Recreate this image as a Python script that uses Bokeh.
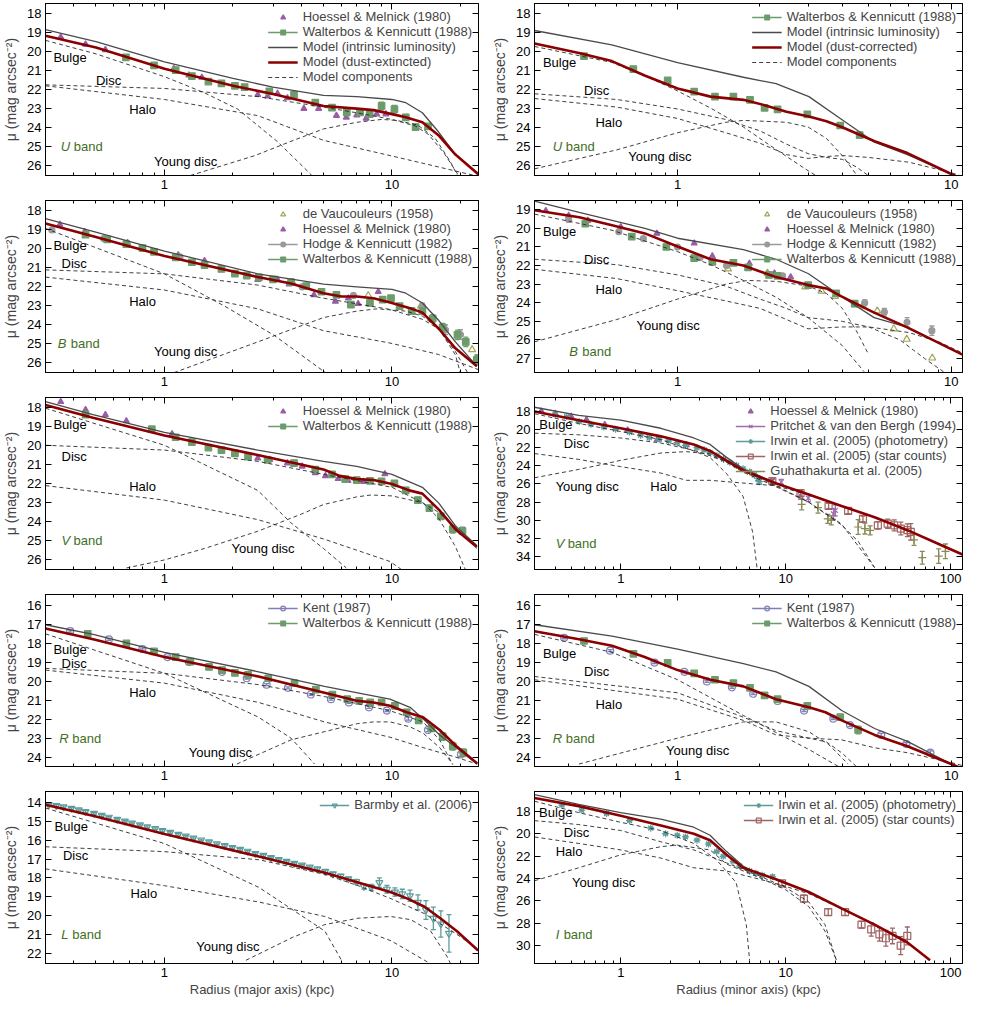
from bokeh.plotting import figure
from bokeh.models import (Range1d, FixedTicker, LogAxis, LinearAxis, Legend, LegendItem,
                          Label, ColumnDataSource, BasicTickFormatter, CustomJSTickFormatter)
from bokeh.layouts import column, row
from bokeh.embed import file_html
from bokeh.resources import INLINE

FONT = "Liberation Sans"
RED = "#8b0000"
GRAY = "#4a4a4a"
DASHC = "#2a2a2a"
C_HM = "#9a5ca6"
C_WK = "#6c9c6c"
C_DV = "#a3a35a"
C_HK = "#9a9a9a"
C_KENT = "#7f7fb5"
C_PV = "#a06cb0"
C_IP = "#5c9c9c"
C_IS = "#a06464"
C_GU = "#8a8a58"
C_BA = "#5c9c9c"
C_BAND = "#3f6f1f"

# ---------------- ticks ----------------
X_MAJOR = [1, 10, 100]
X_MINOR = [0.3, 0.4, 0.5, 0.6, 0.7, 0.8, 0.9, 2, 3, 4, 5, 6, 7, 8, 9,
           20, 30, 40, 50, 60, 70, 80, 90, 200]
Y_TICKS_UBV = [18, 19, 20, 21, 22, 23, 24, 25, 26]
Y_TICKS_B_MIN = [19, 20, 21, 22, 23, 24, 25, 26, 27]
Y_TICKS_V_MIN = [18, 20, 22, 24, 26, 28, 30, 32, 34]
Y_TICKS_R = [16, 17, 18, 19, 20, 21, 22, 23, 24]
Y_TICKS_L = [14, 15, 16, 17, 18, 19, 20, 21, 22]
Y_TICKS_I = [18, 20, 22, 24, 26, 28, 30]

# ---------------- U band, major axis ----------------
U_MAJ_INTR_X = [0.3, 0.5, 1, 2, 3, 5, 7, 10, 11.5, 13.6, 16, 19, 24]
U_MAJ_INTR_Y = [18.88, 19.5, 20.57, 21.44, 21.9, 22.33, 22.4, 22.55, 22.72, 23.25, 24.25, 25.45, 26.45]
U_MAJ_RED_X = [0.3, 0.5, 1, 2, 3, 5, 7, 8.3, 10, 11.5, 13.6, 16, 19, 24]
U_MAJ_RED_Y = [19.2, 19.82, 20.93, 21.83, 22.26, 22.89, 23.03, 23.11, 23.32, 23.49, 23.75, 24.43, 25.45, 26.5]
U_MAJ_BULGE_X = [0.3, 0.5, 1, 1.5, 2.1, 3.14, 4.39, 4.7]
U_MAJ_BULGE_Y = [19.44, 20.15, 21.35, 22.2, 23.06, 24.77, 26.48, 27.0]
U_MAJ_DISC_X = [0.3, 1, 2.57, 5, 7, 10, 12.7, 14.5, 17, 19.5, 21]
U_MAJ_DISC_Y = [21.78, 21.97, 22.4, 22.95, 23.25, 23.6, 23.95, 24.4, 25.4, 26.5, 27.2]
U_MAJ_HALO_X = [0.3, 1, 2.57, 5, 9.8, 16, 24]
U_MAJ_HALO_Y = [21.83, 22.55, 23.4, 24.7, 25.5, 26.1, 26.6]
U_MAJ_YOUNG_X = [1.3, 2.5, 3.6, 5, 7, 9, 10.5, 13, 15.5, 18, 19.5]
U_MAJ_YOUNG_Y = [26.55, 25.5, 24.75, 24.1, 23.75, 23.6, 23.65, 23.9, 24.6, 25.8, 26.6]
U_MAJ_HM_X = [0.35, 0.45, 0.55, 1.1, 1.28, 1.46, 2.57, 2.84, 3.14, 3.47, 4.1, 4.76, 5.7, 6.3, 7.0, 7.7, 8.56, 9.4]
U_MAJ_HM_Y = [19.27, 19.65, 19.94, 20.93, 21.27, 21.39, 22.3, 22.38, 22.24, 22.47, 23.03, 23.03, 23.4, 23.49, 23.37, 23.54, 23.32, 23.32]
U_MAJ_WK_X = [0.677, 0.9, 1.12, 1.32, 1.56, 1.78, 2.04, 2.25, 2.89, 3.71, 4.6, 5.45, 6.33, 7.24, 7.98, 9.0, 10.25, 11.5, 12.7, 14.4]
U_MAJ_WK_Y = [20.33, 20.76, 21.01, 21.32, 21.61, 21.7, 21.83, 21.9, 22.12, 22.3, 22.72, 22.98, 23.23, 23.23, 23.32, 22.89, 23.06, 23.49, 24.0, 23.97]
U_MAJ_WK_E = [0.08, 0.08, 0.08, 0.08, 0.08, 0.08, 0.08, 0.08, 0.1, 0.1, 0.12, 0.12, 0.15, 0.15, 0.15, 0.2, 0.2, 0.15, 0.15, 0.15]

# ---------------- U band, minor axis ----------------
U_MIN_INTR_X = [0.3, 0.575, 1, 1.74, 2.29, 3.02, 3.98, 5.25, 6.92, 10, 11]
U_MIN_INTR_Y = [18.92, 19.68, 20.61, 21.38, 21.72, 22.4, 23.6, 24.8, 25.45, 26.47, 26.75]
U_MIN_RED_X = [0.3, 0.436, 0.575, 0.758, 1, 1.32, 1.74, 2.08, 2.5, 3.02, 3.5, 3.98, 5.25, 6.92, 10, 11]
U_MIN_RED_Y = [19.6, 20.1, 20.53, 21.29, 21.97, 22.4, 22.57, 22.85, 23.2, 23.45, 23.7, 24.0, 24.75, 25.37, 26.47, 26.75]
U_MIN_BULGE_X = [0.3, 0.575, 0.76, 1, 1.32, 1.74, 2.3, 3.0, 3.5]
U_MIN_BULGE_Y = [19.76, 20.6, 21.3, 22.1, 23.0, 24.0, 25.2, 26.3, 26.9]
U_MIN_DISC_X = [0.3, 0.6, 1, 1.5, 2, 2.5, 3, 3.5, 4, 4.5, 5.5]
U_MIN_DISC_Y = [22.25, 22.55, 23.05, 23.6, 24.2, 24.9, 25.4, 25.6, 25.7, 26.1, 27.0]
U_MIN_HALO_X = [0.3, 0.6, 1, 1.5, 2, 2.5, 3, 3.5, 4, 5, 7, 10, 11]
U_MIN_HALO_Y = [22.5, 22.95, 23.55, 24.3, 24.85, 25.45, 25.65, 25.55, 25.5, 25.6, 25.85, 26.4, 26.6]
U_MIN_YOUNG_X = [0.3, 0.6, 1, 1.5, 1.74, 2.5, 3, 3.5, 4, 4.5, 5]
U_MIN_YOUNG_Y = [26.2, 25.2, 24.3, 23.75, 23.65, 23.75, 24.0, 24.6, 25.5, 26.5, 27.2]
U_MIN_WK_X = [0.455, 0.689, 0.92, 1.15, 1.37, 1.6, 1.84, 2.08, 2.32, 2.98, 3.93, 4.63]
U_MIN_WK_Y = [20.27, 20.95, 21.55, 22.14, 22.4, 22.4, 22.57, 22.99, 23.07, 23.33, 23.92, 24.43]
U_MIN_WK_E = [0.08, 0.08, 0.1, 0.1, 0.1, 0.1, 0.1, 0.1, 0.1, 0.12, 0.15, 0.15]

# ---------------- B band, major axis ----------------
B_MAJ_INTR_X = [0.3, 0.49, 1, 2.57, 5, 7, 10, 11.5, 13.6, 16.1, 19, 23.6]
B_MAJ_INTR_Y = [18.45, 19.14, 20.16, 21.36, 21.9, 22.04, 22.18, 22.38, 22.89, 23.83, 24.94, 26.22]
B_MAJ_RED_X = [0.3, 0.49, 1, 2.57, 3.6, 5, 6, 7, 8.3, 10, 11.9, 13.6, 16.1, 19, 23.6]
B_MAJ_RED_Y = [18.71, 19.39, 20.42, 21.53, 21.87, 22.38, 22.55, 22.55, 22.64, 22.89, 23.15, 23.4, 24.26, 25.28, 26.22]
B_MAJ_BULGE_X = [0.3, 1, 1.84, 3.04, 5.0, 5.5]
B_MAJ_BULGE_Y = [18.97, 21.36, 23.06, 24.6, 26.48, 26.9]
B_MAJ_DISC_X = [0.3, 1, 2.57, 5, 9.8, 13.6, 16.1, 19, 20]
B_MAJ_DISC_Y = [21.15, 21.36, 21.95, 22.64, 23.23, 23.75, 24.26, 25.62, 26.6]
B_MAJ_HALO_X = [0.3, 1, 2.57, 5, 9.8, 16, 24]
B_MAJ_HALO_Y = [21.53, 22.21, 23.2, 24.35, 25.0, 25.6, 26.4]
B_MAJ_YOUNG_X = [1.1, 2.57, 5, 7, 8.6, 11.5, 13.6, 16.1, 19, 21.5]
B_MAJ_YOUNG_Y = [26.56, 24.94, 23.66, 23.32, 23.2, 23.32, 23.58, 24.26, 25.45, 26.56]
B_MAJ_DV_X = [3.65, 7.86, 13.4, 22.5, 23.5]
B_MAJ_DV_Y = [21.8, 22.5, 23.05, 25.35, 25.8]
B_MAJ_HM_X = [0.347, 0.446, 0.688, 1.15, 1.5, 2.57, 3.14, 3.53, 4.54, 5.64, 6.43, 7.1, 8.7]
B_MAJ_HM_Y = [18.76, 19.14, 19.73, 20.37, 20.67, 21.66, 21.66, 21.9, 22.47, 22.81, 22.64, 22.93, 22.3]
B_MAJ_HK_X = [0.32, 0.54, 0.8, 1.17, 4.03, 6.77, 13.6, 17.2, 20.0]
B_MAJ_HK_Y = [19.05, 19.5, 20.02, 20.47, 22.04, 22.5, 23.05, 24.3, 24.55]
B_MAJ_HK_E = [0.1, 0.1, 0.1, 0.1, 0.12, 0.12, 0.15, 0.25, 0.25]
B_MAJ_WK_X = [0.45, 0.56, 0.68, 0.8, 0.9, 1.12, 1.32, 1.5, 1.78, 2.04, 2.3, 2.6, 3.0, 3.6, 4.2,
              4.9, 5.7, 6.6, 8.0, 9.1, 9.9, 10.8, 12.2, 13.6, 15.1, 16.7, 19.4, 21.1, 23.6]
B_MAJ_WK_Y = [19.3, 19.55, 19.8, 20.0, 20.2, 20.5, 20.75, 20.9, 21.1, 21.35, 21.45, 21.55, 21.65, 21.8, 22.0,
              22.3, 22.47, 22.98, 22.89, 22.72, 22.64, 23.06, 23.32, 23.32, 23.71, 24.17, 24.57, 24.94, 25.88]
B_MAJ_WK_E = [0.08, 0.08, 0.08, 0.08, 0.08, 0.08, 0.08, 0.08, 0.08, 0.08, 0.08, 0.08, 0.08, 0.08,
              0.1, 0.1, 0.12, 0.12, 0.12, 0.12, 0.12, 0.15, 0.15, 0.15, 0.2, 0.2, 0.25, 0.25, 0.25]

# ---------------- B band, minor axis ----------------
B_MIN_INTR_X = [0.3, 0.437, 0.76, 1, 1.74, 2.29, 3.01, 3.97, 5.23, 6.7, 9.08, 11]
B_MIN_INTR_Y = [18.53, 19.14, 20.0, 20.53, 21.14, 21.66, 22.44, 23.66, 24.8, 25.25, 26.18, 26.79]
B_MIN_RED_X = [0.3, 0.437, 0.576, 0.76, 1, 1.32, 1.74, 2.29, 3.01, 3.5, 3.97, 5.23, 6.88, 9.08, 11]
B_MIN_RED_Y = [19.02, 19.4, 19.83, 20.27, 20.97, 21.66, 22.0, 22.62, 23.05, 23.23, 23.66, 24.53, 25.31, 26.18, 26.79]
B_MIN_BULGE_X = [0.3, 0.576, 1, 1.32, 1.74, 2.29, 3.0, 4.0, 4.8]
B_MIN_BULGE_Y = [19.23, 20.1, 21.25, 21.95, 22.8, 23.7, 24.8, 26.3, 27.7]
B_MIN_DISC_X = [0.3, 0.6, 1, 1.5, 2, 2.5, 3, 3.5, 4, 5, 6.5, 8, 10]
B_MIN_DISC_Y = [21.66, 21.95, 22.5, 23.1, 23.8, 24.3, 24.8, 24.9, 25.0, 25.3, 26.0, 27.0, 28.0]
B_MIN_HALO_X = [0.3, 0.6, 1, 1.5, 2, 2.5, 3, 4, 5, 7, 9, 11]
B_MIN_HALO_Y = [22.2, 22.7, 23.35, 23.9, 24.3, 24.9, 25.4, 25.3, 25.3, 25.6, 26.1, 26.7]
B_MIN_YOUNG_X = [0.3, 0.6, 1, 1.5, 1.8, 2.3, 3, 3.5, 4, 4.5, 5]
B_MIN_YOUNG_Y = [26.1, 24.9, 23.8, 23.0, 22.8, 22.85, 23.1, 23.5, 24.3, 25.5, 26.8]
B_MIN_DV_X = [1.34, 1.53, 2.13, 2.93, 3.36, 3.76, 4.75, 5.37, 6.17, 6.88, 8.53]
B_MIN_DV_Y = [21.83, 22.18, 22.41, 23.14, 23.37, 23.66, 24.18, 24.44, 25.4, 25.96, 26.97]
B_MIN_HM_X = [0.33, 0.4, 0.47, 0.62, 0.84, 1.15, 1.34, 1.83, 2.26, 2.59]
B_MIN_HM_Y = [19.05, 19.31, 19.57, 19.92, 20.27, 20.8, 21.49, 21.89, 22.41, 22.62]
B_MIN_HK_X = [0.4, 0.61, 0.75, 1.0, 1.21, 1.51, 2.42, 4.83, 5.7, 6.9, 8.5]
B_MIN_HK_Y = [19.52, 20.18, 20.55, 21.0, 21.57, 22.0, 22.55, 24.0, 24.5, 25.05, 25.5]
B_MIN_HK_E = [0.1, 0.1, 0.1, 0.1, 0.1, 0.1, 0.1, 0.15, 0.2, 0.25, 0.25]
B_MIN_WK_X = [0.46, 0.68, 0.91, 1.15, 1.34, 1.6, 1.81, 2.16, 2.32, 3.0, 3.8, 4.44]
B_MIN_WK_Y = [19.75, 20.44, 21.0, 21.6, 21.8, 21.85, 22.1, 22.5, 22.55, 23.05, 23.5, 24.05]
B_MIN_WK_E = [0.08, 0.08, 0.08, 0.1, 0.1, 0.1, 0.1, 0.1, 0.1, 0.12, 0.15, 0.15]

# ---------------- V band, major axis ----------------
V_MAJ_INTR_X = [0.3, 0.485, 1, 2.57, 5, 7, 10, 13.6, 16.1, 19, 23.6]
V_MAJ_INTR_Y = [17.72, 18.4, 19.32, 20.25, 20.84, 21.1, 21.52, 22.2, 23.04, 24.22, 25.24]
V_MAJ_RED_X = [0.3, 0.485, 1, 2.57, 5, 5.9, 7, 8.3, 10, 11.9, 13.6, 16.1, 19, 23.6]
V_MAJ_RED_Y = [17.89, 18.56, 19.49, 20.51, 21.27, 21.6, 21.77, 21.82, 22.03, 22.36, 22.53, 23.38, 24.39, 25.32]
V_MAJ_BULGE_X = [0.3, 1, 2.57, 3.59, 5, 6.3]
V_MAJ_BULGE_Y = [18.06, 20.0, 22.36, 24.05, 25.4, 26.42]
V_MAJ_DISC_X = [0.3, 1, 2.57, 5, 10, 13.6, 16, 19, 21]
V_MAJ_DISC_Y = [20.0, 20.25, 20.84, 21.52, 22.2, 23.0, 23.8, 25.3, 26.5]
V_MAJ_HALO_X = [0.3, 1, 2.57, 5, 9.8, 11]
V_MAJ_HALO_Y = [22.11, 22.87, 23.89, 24.9, 26.08, 26.5]
V_MAJ_YOUNG_X = [0.68, 1, 1.5, 2.57, 4, 5, 7, 8.1, 10, 13.6, 16, 19, 23.6]
V_MAJ_YOUNG_Y = [26.42, 26.0, 25.4, 24.5, 23.6, 23.1, 22.7, 22.6, 22.65, 23.0, 23.5, 24.3, 25.4]
V_MAJ_HM_X = [0.35, 0.45, 0.55, 0.68, 1.08, 2.57, 2.9, 3.47, 4.03, 4.6, 5.1, 5.8, 6.4, 7.0, 7.5, 9.3]
V_MAJ_HM_Y = [17.72, 18.14, 18.4, 18.73, 19.41, 20.68, 20.75, 20.93, 21.1, 21.45, 21.6, 21.75, 21.85, 21.85, 21.9, 21.5]
V_MAJ_WK_X = [0.45, 0.88, 1.12, 1.32, 1.56, 1.78, 2.04, 2.33, 2.84, 3.71, 4.6, 5.45, 6.23, 7.0, 8.0,
              9.0, 10.25, 11.5, 13.0, 14.6, 16.4, 18.5, 20.4]
V_MAJ_WK_Y = [18.4, 19.16, 19.58, 19.83, 20.12, 20.25, 20.42, 20.59, 20.76, 20.93, 21.27, 21.52, 21.77, 21.82, 21.86,
              21.89, 21.99, 22.36, 22.87, 23.29, 23.72, 24.39, 24.48]
V_MAJ_WK_E = [0.08, 0.08, 0.08, 0.08, 0.08, 0.08, 0.08, 0.08, 0.08, 0.1, 0.1, 0.1, 0.12, 0.12, 0.12,
              0.12, 0.12, 0.15, 0.15, 0.15, 0.15, 0.2, 0.2]

# ---------------- V band, minor axis ----------------
V_MIN_INTR_X = [0.3, 0.556, 1, 1.75, 2.77, 3.48, 4.38, 5.51, 6.93, 8.72]
V_MIN_INTR_Y = [17.57, 18.46, 18.99, 19.88, 20.95, 21.66, 23.08, 24.33, 25.1, 25.93]
V_MIN_RED_X = [0.3, 0.556, 1, 1.75, 2.77, 3.48, 4.38, 5.51, 8.72, 13.8, 21.8, 34.6, 54.7, 86.6, 118]
V_MIN_RED_Y = [18.04, 18.99, 19.88, 20.77, 21.66, 22.37, 23.44, 24.5, 25.93, 27.17, 28.42, 29.66, 31.08, 32.68, 33.75]
V_MIN_BULGE_X = [0.3, 0.556, 1, 1.75, 2.77, 3.48, 4.38, 5.51, 6.3, 6.7]
V_MIN_BULGE_Y = [18.28, 19.35, 20.24, 21.13, 22.37, 23.1, 24.86, 27.35, 31.26, 35.2]
V_MIN_DISC_X = [0.3, 0.556, 1, 1.75, 2.77, 3.48, 4.38, 5.51, 8.72, 13.8, 21.8, 27.5, 34.6]
V_MIN_DISC_Y = [20.42, 20.6, 20.95, 21.5, 22.3, 22.9, 23.6, 24.5, 26.2, 28.0, 30.5, 32.3, 35.2]
V_MIN_YOUNG_X = [0.3, 0.556, 0.8, 1, 1.75, 2.5, 3.48, 4.38, 5.51, 8.72, 13.8, 21.8, 34.6]
V_MIN_YOUNG_Y = [25.32, 24.4, 23.8, 23.4, 22.6, 22.45, 22.7, 23.6, 24.7, 26.3, 28.0, 30.4, 35.2]
V_MIN_HALO_X = [0.3, 0.556, 0.8, 1, 1.75, 2.5, 3.48, 5.51, 8.72, 13.8, 21.8, 34.6, 54.7, 86.6, 118]
V_MIN_HALO_Y = [22.66, 23.3, 23.8, 24.1, 24.8, 25.6, 25.6, 25.9, 26.2, 27.2, 28.4, 29.7, 31.1, 32.7, 33.8]
V_MIN_HM_X = [0.33, 0.4, 0.5, 0.62, 0.8, 1.1, 1.67, 2.5]
V_MIN_HM_Y = [18.0, 18.25, 18.6, 18.95, 19.5, 20.1, 21.1, 21.7]
V_MIN_PV_X = [8.3, 9.4, 12.3, 13.7, 19.5, 20.0]
V_MIN_PV_Y = [25.7, 25.8, 27.3, 27.55, 29.3, 28.9]
V_MIN_PV_E = [0.3, 0.3, 0.4, 0.4, 0.6, 0.6]
V_MIN_IP_X = [0.4, 0.47, 0.56, 0.66, 0.79, 0.93, 1.13, 1.32, 1.49, 1.71, 1.95, 2.2, 2.47, 2.9, 3.2,
              3.48, 3.83, 4.2, 4.59, 5.03, 5.51, 6.04, 6.47, 6.78, 6.93]
V_MIN_IP_Y = [18.4, 18.6, 19.15, 19.45, 19.75, 20.0, 20.3, 20.65, 20.9, 21.1, 21.3, 21.45, 21.75, 22.0, 22.25,
              22.55, 22.9, 23.3, 23.62, 23.97, 24.33, 24.68, 25.0, 25.4, 25.75]
V_MIN_IP_E = [0.1, 0.1, 0.1, 0.1, 0.1, 0.1, 0.1, 0.1, 0.1, 0.1, 0.1, 0.1, 0.1, 0.1, 0.1,
              0.1, 0.1, 0.1, 0.1, 0.1, 0.15, 0.15, 0.2, 0.25, 0.3]
V_MIN_IS_X = [8.3, 12.3, 18.2, 23.9, 29.4, 36.2, 41.5, 45.5, 49.9, 54.7, 57.3]
V_MIN_IS_Y = [25.7, 27.0, 28.42, 28.95, 29.84, 30.55, 30.37, 30.55, 30.9, 31.08, 31.26]
V_MIN_IS_E = [0.2, 0.3, 0.3, 0.3, 0.3, 0.4, 0.5, 0.6, 0.7, 0.7, 0.9]
V_MIN_GU_X = [12.5, 15.7, 18.0, 18.9, 27.5, 30.2, 32.5, 60, 67.3, 84.6, 93]
V_MIN_GU_Y = [28.24, 28.6, 29.84, 30.0, 30.73, 30.9, 31.1, 32.15, 34.1, 33.93, 33.4]
V_MIN_GU_E = [0.6, 0.6, 0.5, 0.5, 0.8, 0.6, 0.5, 0.6, 0.7, 0.8, 0.8]

# ---------------- R band, major axis ----------------
R_MAJ_INTR_X = [0.3, 0.486, 1, 2.59, 5.05, 7.06, 9.8, 12, 13.7, 16.2, 19.2, 23.7]
R_MAJ_INTR_Y = [17.0, 17.51, 18.46, 19.49, 20.26, 20.6, 20.94, 21.37, 21.97, 22.83, 23.51, 24.37]
R_MAJ_RED_X = [0.3, 0.486, 1, 2.59, 5.05, 7.06, 8.3, 9.8, 11.6, 13.7, 16.2, 19.2, 23.7]
R_MAJ_RED_Y = [17.2, 17.77, 18.71, 19.74, 20.6, 21.03, 21.11, 21.29, 21.63, 21.89, 22.57, 23.43, 24.34]
R_MAJ_BULGE_X = [0.3, 1, 2.59, 3.6, 4.57]
R_MAJ_BULGE_Y = [17.48, 19.57, 21.89, 23.0, 24.37]
R_MAJ_DISC_X = [0.3, 1, 2.59, 5.05, 9.8, 13.7, 16.2, 18.5]
R_MAJ_DISC_Y = [19.31, 19.57, 20.17, 20.8, 21.55, 22.14, 23.1, 24.4]
R_MAJ_HALO_X = [0.3, 1, 2.59, 5.05, 9.8, 13.7, 19, 23.7]
R_MAJ_HALO_Y = [19.4, 20.09, 21.11, 22.14, 22.95, 23.5, 24.0, 24.37]
R_MAJ_YOUNG_X = [2.08, 3.6, 7.06, 8.3, 9.8, 12, 13.7, 16.2, 18.5]
R_MAJ_YOUNG_Y = [24.37, 23.09, 22.23, 22.14, 22.14, 22.4, 22.74, 23.5, 24.37]
R_MAJ_KENT_X = [0.385, 0.57, 0.8, 1.03, 1.28, 1.79, 2.3, 2.81, 3.49, 4.4, 5.39, 6.47, 7.92, 9.5, 11.8, 14.4, 20.1]
R_MAJ_KENT_Y = [17.34, 17.77, 18.29, 18.71, 18.97, 19.49, 19.83, 20.17, 20.34, 20.69, 20.94, 21.11, 21.37, 21.54, 21.97, 22.57, 23.86]
R_MAJ_KENT_E = [0.05, 0.05, 0.05, 0.05, 0.05, 0.05, 0.05, 0.05, 0.05, 0.05, 0.05, 0.05, 0.05, 0.05, 0.08, 0.08, 0.1]
R_MAJ_WK_X = [0.46, 0.68, 0.9, 1.12, 1.3, 1.57, 1.79, 2.04, 2.33, 2.86, 3.73, 4.63, 5.47, 6.36, 7.17,
              8.02, 9.0, 10.3, 11.6, 13.1, 14.9, 16.7, 18.5, 20.6]
R_MAJ_WK_Y = [17.48, 17.99, 18.41, 18.71, 18.95, 19.23, 19.4, 19.55, 19.65, 19.83, 20.09, 20.43, 20.69, 20.94, 21.03,
              21.11, 21.11, 21.29, 21.63, 22.06, 22.49, 22.91, 23.43, 23.77]
R_MAJ_WK_E = [0.08, 0.08, 0.08, 0.08, 0.08, 0.08, 0.08, 0.08, 0.08, 0.08, 0.1, 0.1, 0.1, 0.12, 0.12,
              0.12, 0.15, 0.15, 0.15, 0.15, 0.15, 0.2, 0.2, 0.2]

# ---------------- R band, minor axis ----------------
R_MIN_INTR_X = [0.3, 0.576, 1, 1.74, 2.29, 3.02, 3.98, 5.25, 6.92, 10, 11]
R_MIN_INTR_Y = [17.0, 17.6, 18.29, 19.06, 19.49, 20.26, 21.54, 22.49, 23.17, 24.37, 24.62]
R_MIN_RED_X = [0.3, 0.436, 0.576, 0.758, 1, 1.32, 1.74, 2.29, 3.02, 3.47, 3.98, 5.25, 6.92, 10, 11]
R_MIN_RED_Y = [17.34, 17.77, 18.11, 18.71, 19.4, 19.91, 20.26, 20.94, 21.37, 21.63, 22.06, 22.83, 23.43, 24.37, 24.62]
R_MIN_BULGE_X = [0.3, 0.576, 1, 1.74, 2.29, 3.02, 3.98]
R_MIN_BULGE_Y = [17.51, 18.46, 19.91, 21.8, 22.7, 23.6, 24.6]
R_MIN_DISC_X = [0.3, 1, 1.74, 2.29, 3.02, 3.5, 4, 4.5]
R_MIN_DISC_Y = [19.74, 20.6, 21.89, 22.6, 23.0, 23.2, 23.8, 24.5]
R_MIN_HALO_X = [0.3, 1, 1.74, 2.29, 3.02, 3.98, 5.25, 6.92, 10, 11]
R_MIN_HALO_Y = [19.91, 20.94, 22.06, 22.83, 23.0, 23.09, 23.51, 23.77, 24.29, 24.45]
R_MIN_YOUNG_X = [0.436, 1, 1.74, 2.29, 3.02, 3.57, 4.2]
R_MIN_YOUNG_Y = [24.37, 23.0, 22.14, 22.14, 22.66, 23.34, 24.37]
R_MIN_KENT_X = [0.385, 0.567, 0.824, 1.06, 1.28, 1.58, 1.89, 2.32, 2.9, 3.71, 4.27, 5.55, 6.86, 8.4]
R_MIN_KENT_Y = [17.69, 18.37, 19.0, 19.49, 20.0, 20.31, 20.65, 21.03, 21.54, 21.97, 22.31, 22.83, 23.31, 23.77]
R_MIN_KENT_E = [0.05, 0.05, 0.05, 0.05, 0.05, 0.05, 0.05, 0.05, 0.05, 0.05, 0.08, 0.08, 0.08, 0.1]
R_MIN_WK_X = [0.455, 0.69, 0.92, 1.15, 1.37, 1.6, 1.84, 2.08, 2.32, 2.98, 3.93, 4.57]
R_MIN_WK_Y = [17.86, 18.54, 19.02, 19.57, 19.91, 20.09, 20.34, 20.74, 20.94, 21.29, 21.89, 22.57]
R_MIN_WK_E = [0.08, 0.08, 0.08, 0.08, 0.1, 0.1, 0.1, 0.1, 0.1, 0.12, 0.15, 0.2]

# ---------------- L band, major axis ----------------
L_MAJ_RED_X = [0.3, 0.49, 1, 2.6, 5.07, 7.1, 9.9, 11.7, 13.9, 16.3, 19.3, 23.9]
L_MAJ_RED_Y = [14.1, 14.7, 15.66, 16.86, 17.72, 18.24, 18.76, 19.1, 19.53, 20.14, 20.83, 21.86]
L_MAJ_BULGE_X = [0.3, 1, 2.6, 5.07, 6.0]
L_MAJ_BULGE_Y = [14.28, 16.17, 18.5, 20.83, 22.38]
L_MAJ_DISC_X = [0.3, 1, 2.6, 5.07, 7.1, 9.9, 13.9, 19.3, 23.9]
L_MAJ_DISC_Y = [16.34, 16.6, 17.03, 17.81, 18.41, 19.1, 19.9, 21.0, 21.8]
L_MAJ_HALO_X = [0.3, 1, 2.6, 5.07, 9.9, 13.9, 16]
L_MAJ_HALO_Y = [17.52, 18.41, 19.28, 20.05, 21.34, 22.38, 22.8]
L_MAJ_YOUNG_X = [2.28, 3.64, 5.07, 7.1, 9.9, 12.1, 14.8, 17.5, 18.5]
L_MAJ_YOUNG_Y = [22.38, 21.17, 20.48, 20.14, 20.05, 20.22, 20.83, 22.2, 22.8]
L_MAJ_BA_X = [0.31, 0.335, 0.36, 0.39, 0.42, 0.45, 0.49, 0.53, 0.57, 0.62, 0.67, 0.72, 0.78, 0.84, 0.91,
              0.98, 1.06, 1.15, 1.24, 1.34, 1.45, 1.57, 1.7, 1.84, 1.99, 2.15, 2.32, 2.51, 2.72, 2.94,
              3.18, 3.44, 3.72, 4.02, 4.35, 4.7, 5.09, 5.5, 5.95, 6.43, 6.96, 7.52, 8.1, 8.8, 9.5,
              10.3, 11.1, 12.0, 13.0, 14.1, 15.2, 16.4, 17.8]
L_MAJ_BA_Y = [14.1, 14.15, 14.22, 14.3, 14.38, 14.47, 14.57, 14.67, 14.77, 14.88, 14.98, 15.08, 15.18, 15.28, 15.38,
              15.48, 15.58, 15.68, 15.78, 15.88, 15.98, 16.08, 16.18, 16.28, 16.38, 16.48, 16.58, 16.7, 16.8, 16.92,
              17.02, 17.12, 17.22, 17.32, 17.42, 17.52, 17.65, 17.78, 17.9, 18.05, 18.2, 18.45, 18.5, 18.25, 18.6,
              18.75, 18.85, 18.95, 19.3, 19.7, 20.15, 20.45, 20.95]
L_MAJ_BA_E = [0.05, 0.05, 0.05, 0.05, 0.05, 0.05, 0.05, 0.05, 0.05, 0.05, 0.05, 0.05, 0.05, 0.05, 0.05,
              0.05, 0.05, 0.05, 0.05, 0.05, 0.05, 0.05, 0.05, 0.05, 0.05, 0.05, 0.05, 0.05, 0.05, 0.05,
              0.05, 0.05, 0.05, 0.05, 0.05, 0.06, 0.07, 0.08, 0.09, 0.1, 0.12, 0.14, 0.16, 0.25, 0.2,
              0.22, 0.25, 0.3, 0.4, 0.5, 0.6, 0.7, 1.0]

# ---------------- I band, minor axis ----------------
I_MIN_INTR_X = [0.3, 0.556, 1, 1.75, 2.77, 3.48, 4.38, 5.51, 6.04]
I_MIN_INTR_Y = [16.49, 17.36, 18.09, 18.67, 19.4, 20.12, 21.58, 22.88, 23.2]
I_MIN_RED_X = [0.3, 0.556, 1, 1.75, 2.77, 3.48, 4.38, 5.51, 8.72, 13.8, 21.8, 34.6, 54.7, 75]
I_MIN_RED_Y = [16.78, 17.51, 18.38, 19.25, 19.98, 20.56, 21.87, 23.03, 24.05, 25.2, 26.66, 28.12, 29.72, 31.31]
I_MIN_BULGE_X = [0.3, 0.556, 1, 1.75, 2.77, 3.8, 5.0, 5.77, 6.04]
I_MIN_BULGE_Y = [17.07, 18.09, 18.96, 19.69, 20.85, 22.3, 24.34, 28.12, 31.31]
I_MIN_DISC_X = [0.3, 0.556, 1, 1.75, 2.77, 4.38, 6.93, 10, 13.8, 17.3, 20.3]
I_MIN_DISC_Y = [18.81, 19.16, 19.69, 20.7, 21.43, 22.59, 23.76, 24.8, 26.08, 28.12, 31.31]
I_MIN_HALO_X = [0.3, 0.556, 1, 1.75, 2.77, 4.38, 6.93, 10, 13.8, 21.8, 34.6, 54.7, 75]
I_MIN_HALO_Y = [20.27, 20.85, 21.43, 22.16, 23.03, 23.32, 24.05, 24.7, 25.35, 26.7, 28.15, 29.75, 31.35]
I_MIN_YOUNG_X = [0.3, 0.556, 1, 1.75, 2.2, 3.48, 4.38, 6.93, 10, 13.8, 17.3, 20.3]
I_MIN_YOUNG_Y = [24.19, 23.03, 21.87, 21.14, 21.0, 21.43, 22.7, 23.9, 25.0, 26.5, 28.7, 31.31]
I_MIN_IP_X = [0.44, 0.58, 0.82, 1.13, 1.52, 1.87, 2.2, 2.47, 2.9, 3.4, 3.82, 4.18, 4.8, 5.26, 6.04, 6.6, 7.2, 8.33]
I_MIN_IP_Y = [17.42, 17.88, 18.17, 18.81, 19.48, 19.98, 20.12, 20.27, 20.56, 20.9, 21.58, 22.0, 22.45, 22.88, 23.32, 23.52, 23.7, 23.84]
I_MIN_IP_E = [0.08, 0.08, 0.08, 0.08, 0.08, 0.08, 0.08, 0.08, 0.08, 0.1, 0.1, 0.1, 0.1, 0.1, 0.12, 0.12, 0.15, 0.15]
I_MIN_IS_X = [9.5, 12.9, 18.1, 22.9, 28.8, 33.0, 37.0, 40.5, 44.4, 49.8, 54.6]
I_MIN_IS_Y = [24.42, 25.79, 27.0, 27.0, 28.12, 28.55, 28.99, 29.34, 29.13, 30.0, 29.13]
I_MIN_IS_E = [0.2, 0.3, 0.3, 0.3, 0.3, 0.6, 0.6, 0.7, 0.7, 0.8, 0.8]

# ---------------- text ----------------
L_HM = "Hoessel & Melnick (1980)"
L_WK = "Walterbos & Kennicutt (1988)"
L_DV = "de Vaucouleurs (1958)"
L_HK = "Hodge & Kennicutt (1982)"
L_KENT = "Kent (1987)"
L_PV = "Pritchet & van den Bergh (1994)"
L_IP = "Irwin et al. (2005) (photometry)"
L_IS = "Irwin et al. (2005) (star counts)"
L_GU = "Guhathakurta et al. (2005)"
L_BA = "Barmby et al. (2006)"
L_INTR = "Model (intrinsic luminosity)"
L_EXT = "Model (dust-extincted)"
L_COR = "Model (dust-corrected)"
L_COMP = "Model components"
Y_LABEL = "\u03bc (mag arcsec\u207b\u00b2)"
X_LABEL_MAJ = "Radius (major axis) (kpc)"
X_LABEL_MIN = "Radius (minor axis) (kpc)"

STYLE = {
    "HM": (C_HM, "triangle", 6, True),
    "WK": (C_WK, "square", 6.5, True),
    "DV": (C_DV, "triangle", 7, False),
    "HK": (C_HK, "circle", 6, True),
    "KENT": (C_KENT, "circle", 7, False),
    "PV": (C_PV, "x", 7, False),
    "IP": (C_IP, "asterisk", 7, False),
    "IS": (C_IS, "square", 7, False),
    "GU": (C_GU, "cross", 8, False),
    "BA": (C_BA, "inverted_triangle", 7, False),
}


def draw_series(p, key, x, y, err):
    color, marker, size, filled = STYLE[key]
    rs = []
    if err is not None:
        lo = [a - e for a, e in zip(y, err)]
        hi = [a + e for a, e in zip(y, err)]
        src = ColumnDataSource(dict(x=x, y=y, lo=lo, hi=hi))
        seg = p.segment("x", "lo", "x", "hi", source=src, line_color=color, line_width=1.3)
        p.scatter("x", "lo", source=src, marker="dash", size=5, line_color=color, line_width=1.3)
        p.scatter("x", "hi", source=src, marker="dash", size=5, line_color=color, line_width=1.3)
        rs.append(seg)
    else:
        src = ColumnDataSource(dict(x=x, y=y))
    sc = p.scatter("x", "y", source=src, marker=marker, size=size, line_color=color,
                   fill_color=color if filled else None, line_width=1.2)
    rs.append(sc)
    return rs


def make_panel(col, last, xmax, ylo, yhi, yticks, intr, red, red_label, comps, data,
               texts, band, xlabel=None):
    w = 484 if col == 0 else 481
    h = 211 if last else 197
    p = figure(width=w, height=h, x_axis_type="log",
               x_range=Range1d(0.3, xmax), y_range=Range1d(yhi, ylo),
               output_backend="svg", toolbar_location=None,
               min_border_left=42 if col == 0 else 50,
               min_border_right=6 if col == 0 else 3,
               min_border_top=3, min_border_bottom=36 if last else 22)
    p.xgrid.visible = False
    p.ygrid.visible = False
    p.outline_line_color = "black"
    p.outline_line_width = 1
    p.background_fill_color = "white"
    p.border_fill_color = "white"

    xt = FixedTicker(ticks=X_MAJOR, minor_ticks=X_MINOR)
    yt = FixedTicker(ticks=yticks)
    p.xaxis.ticker = xt
    p.yaxis.ticker = yt
    p.xaxis.formatter = BasicTickFormatter()
    for ax in (p.xaxis[0], p.yaxis[0]):
        ax.major_tick_in = 6
        ax.major_tick_out = 0
        ax.minor_tick_in = 3
        ax.minor_tick_out = 0
        ax.axis_line_color = "black"
        ax.major_label_text_font = FONT
        ax.major_label_text_font_size = "13px"
        ax.major_label_text_color = "black"
        ax.major_label_standoff = 4
        ax.axis_label_text_font = FONT
        ax.axis_label_text_font_size = "13px"
        ax.axis_label_text_font_style = "normal"
        ax.axis_label_standoff = 2
    p.yaxis.axis_label = Y_LABEL
    p.yaxis.axis_label_text_font_size = "14px"
    p.yaxis.axis_label_standoff = 5
    if xlabel:
        p.xaxis.axis_label = xlabel

    empty = CustomJSTickFormatter(code="return ''")
    top = LogAxis(ticker=xt, formatter=empty, major_tick_in=6, major_tick_out=0,
                  minor_tick_in=3, minor_tick_out=0, major_label_standoff=0,
                  major_label_text_font_size="1px")
    p.add_layout(top, "above")
    right = LinearAxis(ticker=yt, formatter=empty, major_tick_in=6, major_tick_out=0,
                       minor_tick_in=0, minor_tick_out=0, major_label_standoff=0,
                       major_label_text_font_size="1px")
    p.add_layout(right, "right")

    items = []
    for key, label, x, y, err in data:
        rs = draw_series(p, key, x, y, err)
        items.append(LegendItem(label=label, renderers=rs))

    comp_r = None
    for cx, cy in comps:
        r = p.line(cx, cy, line_color=DASHC, line_width=0.9, line_dash="4 3")
        if comp_r is None:
            comp_r = r
    ri = None
    if intr is not None:
        ri = p.line(intr[0], intr[1], line_color=GRAY, line_width=1.3)
    rr = p.line(red[0], red[1], line_color=RED, line_width=2.6)
    if red_label:
        items.append(LegendItem(label=L_INTR, renderers=[ri]))
        items.append(LegendItem(label=red_label, renderers=[rr]))
        items.append(LegendItem(label=L_COMP, renderers=[comp_r]))

    legend = Legend(items=items, location="top_right",
                    label_text_font=FONT, label_text_font_size="13px",
                    background_fill_alpha=0, border_line_alpha=0,
                    glyph_width=30, glyph_height=12, label_height=12,
                    spacing=0, padding=2, margin=4, label_standoff=5)
    p.add_layout(legend)

    for t, tx, ty in texts:
        p.add_layout(Label(x=tx, y=ty, text=t, text_font=FONT, text_font_size="13px",
                           text_baseline="middle", text_color="black"))
    letter, bx, by, off = band
    p.add_layout(Label(x=bx, y=by, text=letter, text_font=FONT, text_font_size="13px",
                       text_font_style="italic", text_baseline="middle", text_color=C_BAND))
    p.add_layout(Label(x=bx, y=by, x_offset=off, text="band", text_font=FONT,
                       text_font_size="13px", text_baseline="middle", text_color=C_BAND))
    return p


p1l = make_panel(0, False, 24, 17.5, 26.55, Y_TICKS_UBV,
                 (U_MAJ_INTR_X, U_MAJ_INTR_Y), (U_MAJ_RED_X, U_MAJ_RED_Y), L_EXT,
                 [(U_MAJ_BULGE_X, U_MAJ_BULGE_Y), (U_MAJ_DISC_X, U_MAJ_DISC_Y),
                  (U_MAJ_HALO_X, U_MAJ_HALO_Y), (U_MAJ_YOUNG_X, U_MAJ_YOUNG_Y)],
                 [("HM", L_HM, U_MAJ_HM_X, U_MAJ_HM_Y, None),
                  ("WK", L_WK, U_MAJ_WK_X, U_MAJ_WK_Y, U_MAJ_WK_E)],
                 [("Bulge", 0.325, 20.33), ("Disc", 0.5, 21.53), ("Halo", 0.7, 23.06),
                  ("Young disc", 0.9, 25.8)],
                 ("U", 0.35, 25.0, 13))

p1r = make_panel(1, False, 11, 17.5, 26.55, Y_TICKS_UBV,
                 (U_MIN_INTR_X, U_MIN_INTR_Y), (U_MIN_RED_X, U_MIN_RED_Y), L_COR,
                 [(U_MIN_BULGE_X, U_MIN_BULGE_Y), (U_MIN_DISC_X, U_MIN_DISC_Y),
                  (U_MIN_HALO_X, U_MIN_HALO_Y), (U_MIN_YOUNG_X, U_MIN_YOUNG_Y)],
                 [("WK", L_WK, U_MIN_WK_X, U_MIN_WK_Y, U_MIN_WK_E)],
                 [("Bulge", 0.322, 20.61), ("Disc", 0.455, 22.06), ("Halo", 0.501, 23.75),
                  ("Young disc", 0.661, 25.54)],
                 ("U", 0.35, 25.03, 13))

p2l = make_panel(0, False, 24, 17.5, 26.55, Y_TICKS_UBV,
                 (B_MAJ_INTR_X, B_MAJ_INTR_Y), (B_MAJ_RED_X, B_MAJ_RED_Y), None,
                 [(B_MAJ_BULGE_X, B_MAJ_BULGE_Y), (B_MAJ_DISC_X, B_MAJ_DISC_Y),
                  (B_MAJ_HALO_X, B_MAJ_HALO_Y), (B_MAJ_YOUNG_X, B_MAJ_YOUNG_Y)],
                 [("DV", L_DV, B_MAJ_DV_X, B_MAJ_DV_Y, None),
                  ("HM", L_HM, B_MAJ_HM_X, B_MAJ_HM_Y, None),
                  ("HK", L_HK, B_MAJ_HK_X, B_MAJ_HK_Y, B_MAJ_HK_E),
                  ("WK", L_WK, B_MAJ_WK_X, B_MAJ_WK_Y, B_MAJ_WK_E)],
                 [("Bulge", 0.325, 19.87), ("Disc", 0.353, 20.84), ("Halo", 0.7, 22.81),
                  ("Young disc", 0.9, 25.45)],
                 ("B", 0.34, 25.03, 13))

p2r = make_panel(1, False, 11, 18.5, 27.75, Y_TICKS_B_MIN,
                 (B_MIN_INTR_X, B_MIN_INTR_Y), (B_MIN_RED_X, B_MIN_RED_Y), None,
                 [(B_MIN_BULGE_X, B_MIN_BULGE_Y), (B_MIN_DISC_X, B_MIN_DISC_Y),
                  (B_MIN_HALO_X, B_MIN_HALO_Y), (B_MIN_YOUNG_X, B_MIN_YOUNG_Y)],
                 [("DV", L_DV, B_MIN_DV_X, B_MIN_DV_Y, None),
                  ("HM", L_HM, B_MIN_HM_X, B_MIN_HM_Y, None),
                  ("HK", L_HK, B_MIN_HK_X, B_MIN_HK_Y, B_MIN_HK_E),
                  ("WK", L_WK, B_MIN_WK_X, B_MIN_WK_Y, B_MIN_WK_E)],
                 [("Bulge", 0.322, 20.18), ("Disc", 0.455, 21.66), ("Halo", 0.501, 23.28),
                  ("Young disc", 0.708, 25.23)],
                 ("B", 0.402, 26.62, 13))

p3l = make_panel(0, False, 24, 17.5, 26.5, Y_TICKS_UBV,
                 (V_MAJ_INTR_X, V_MAJ_INTR_Y), (V_MAJ_RED_X, V_MAJ_RED_Y), None,
                 [(V_MAJ_BULGE_X, V_MAJ_BULGE_Y), (V_MAJ_DISC_X, V_MAJ_DISC_Y),
                  (V_MAJ_HALO_X, V_MAJ_HALO_Y), (V_MAJ_YOUNG_X, V_MAJ_YOUNG_Y)],
                 [("HM", L_HM, V_MAJ_HM_X, V_MAJ_HM_Y, None),
                  ("WK", L_WK, V_MAJ_WK_X, V_MAJ_WK_Y, V_MAJ_WK_E)],
                 [("Bulge", 0.325, 18.9), ("Disc", 0.353, 20.59), ("Halo", 0.7, 22.16),
                  ("Young disc", 1.97, 25.4)],
                 ("V", 0.353, 24.98, 12))

p3r = make_panel(1, False, 118, 16.5, 35.4, Y_TICKS_V_MIN,
                 (V_MIN_INTR_X, V_MIN_INTR_Y), (V_MIN_RED_X, V_MIN_RED_Y), None,
                 [(V_MIN_BULGE_X, V_MIN_BULGE_Y), (V_MIN_DISC_X, V_MIN_DISC_Y),
                  (V_MIN_HALO_X, V_MIN_HALO_Y), (V_MIN_YOUNG_X, V_MIN_YOUNG_Y)],
                 [("HM", L_HM, V_MIN_HM_X, V_MIN_HM_Y, None),
                  ("PV", L_PV, V_MIN_PV_X, V_MIN_PV_Y, V_MIN_PV_E),
                  ("IP", L_IP, V_MIN_IP_X, V_MIN_IP_Y, V_MIN_IP_E),
                  ("IS", L_IS, V_MIN_IS_X, V_MIN_IS_Y, V_MIN_IS_E),
                  ("GU", L_GU, V_MIN_GU_X, V_MIN_GU_Y, V_MIN_GU_E)],
                 [("Bulge", 0.321, 19.46), ("Disc", 0.452, 21.59), ("Young disc", 0.403, 26.28),
                  ("Halo", 1.51, 26.28)],
                 ("V", 0.403, 32.5, 12))

p4l = make_panel(0, False, 24, 15.4, 24.5, Y_TICKS_R,
                 (R_MAJ_INTR_X, R_MAJ_INTR_Y), (R_MAJ_RED_X, R_MAJ_RED_Y), None,
                 [(R_MAJ_BULGE_X, R_MAJ_BULGE_Y), (R_MAJ_DISC_X, R_MAJ_DISC_Y),
                  (R_MAJ_HALO_X, R_MAJ_HALO_Y), (R_MAJ_YOUNG_X, R_MAJ_YOUNG_Y)],
                 [("KENT", L_KENT, R_MAJ_KENT_X, R_MAJ_KENT_Y, R_MAJ_KENT_E),
                  ("WK", L_WK, R_MAJ_WK_X, R_MAJ_WK_Y, R_MAJ_WK_E)],
                 [("Bulge", 0.325, 18.29), ("Disc", 0.353, 19.06), ("Halo", 0.7, 20.6),
                  ("Young disc", 1.28, 23.77)],
                 ("R", 0.345, 23.0, 13))

p4r = make_panel(1, False, 11, 15.4, 24.5, Y_TICKS_R,
                 (R_MIN_INTR_X, R_MIN_INTR_Y), (R_MIN_RED_X, R_MIN_RED_Y), None,
                 [(R_MIN_BULGE_X, R_MIN_BULGE_Y), (R_MIN_DISC_X, R_MIN_DISC_Y),
                  (R_MIN_HALO_X, R_MIN_HALO_Y), (R_MIN_YOUNG_X, R_MIN_YOUNG_Y)],
                 [("KENT", L_KENT, R_MIN_KENT_X, R_MIN_KENT_Y, R_MIN_KENT_E),
                  ("WK", L_WK, R_MIN_WK_X, R_MIN_WK_Y, R_MIN_WK_E)],
                 [("Bulge", 0.322, 18.51), ("Disc", 0.455, 19.49), ("Halo", 0.501, 21.2),
                  ("Young disc", 0.908, 23.65)],
                 ("R", 0.35, 23.0, 13))

p5l = make_panel(0, True, 24, 13.4, 22.55, Y_TICKS_L,
                 None, (L_MAJ_RED_X, L_MAJ_RED_Y), None,
                 [(L_MAJ_BULGE_X, L_MAJ_BULGE_Y), (L_MAJ_DISC_X, L_MAJ_DISC_Y),
                  (L_MAJ_HALO_X, L_MAJ_HALO_Y), (L_MAJ_YOUNG_X, L_MAJ_YOUNG_Y)],
                 [("BA", L_BA, L_MAJ_BA_X, L_MAJ_BA_Y, L_MAJ_BA_E)],
                 [("Bulge", 0.329, 15.28), ("Disc", 0.358, 16.78), ("Halo", 0.709, 18.84),
                  ("Young disc", 1.38, 21.66)],
                 ("L", 0.352, 21.0, 11), X_LABEL_MAJ)

p5r = make_panel(1, True, 118, 16.2, 31.6, Y_TICKS_I,
                 (I_MIN_INTR_X, I_MIN_INTR_Y), (I_MIN_RED_X, I_MIN_RED_Y), None,
                 [(I_MIN_BULGE_X, I_MIN_BULGE_Y), (I_MIN_DISC_X, I_MIN_DISC_Y),
                  (I_MIN_HALO_X, I_MIN_HALO_Y), (I_MIN_YOUNG_X, I_MIN_YOUNG_Y)],
                 [("IP", L_IP, I_MIN_IP_X, I_MIN_IP_Y, I_MIN_IP_E),
                  ("IS", L_IS, I_MIN_IS_X, I_MIN_IS_Y, I_MIN_IS_E)],
                 [("Bulge", 0.32, 18.09), ("Disc", 0.452, 19.83), ("Halo", 0.403, 21.58),
                  ("Young disc", 0.507, 24.34)],
                 ("I", 0.403, 28.99, 8), X_LABEL_MIN)

layout = column(row(p1l, p1r), row(p2l, p2r), row(p3l, p3r), row(p4l, p4r), row(p5l, p5r))
open("out.html", "w").write(file_html(layout, INLINE))
